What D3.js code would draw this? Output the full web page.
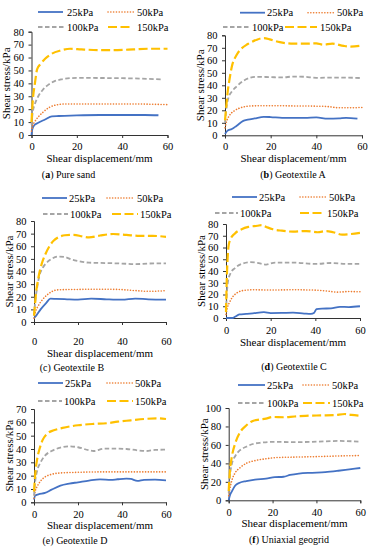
<!DOCTYPE html>
<html>
<head>
<meta charset="utf-8">
<script src="https://cdn.jsdelivr.net/npm/d3@7"></script>
<style>
  body { margin: 0; background: #fff; }
  svg { display: block; }
  text { font-family: "Liberation Serif", "Times New Roman", "DejaVu Serif", serif; fill: #000; }
  .axis path, .axis line { stroke: #333; }
</style>
</head>
<body>
<div id="chart"></div>
<script>
// series: [shear displacement mm, shear stress kPa]
var pressures = ["25kPa", "50kPa", "100kPa", "150kPa"];
var captions = [["a", " Pure sand"], ["b", " Geotextile A"], ["c", " Geotextile B"],
                ["d", " Geotextile C"], ["e", " Geotextile D"], ["f", " Uniaxial geogrid"]];
var boldLetter = [true, true, false, true, false, true];
var yMaxes = [80, 80, 80, 80, 70, 100];
var yStepsList = [10, 10, 10, 10, 10, 20];
var xTicks = [0, 20, 40, 60];

var sand25 = [[0,0],[0.3,4],[1.2,7.5],[3,9.5],[6,12],[9,14.5],[12,14.7],[20,15.2],[30,15.5],[40,15.5],[50,15.5],[56,15.3]];
var sand50 = [[0,3],[0.5,7],[1.5,10.5],[3,14],[5,17.5],[8,21.5],[11,23.3],[15,24],[30,24],[45,24],[60,23.5]];
var sand100 = [[0,8],[0.5,17],[1.5,24],[3,30],[5,35],[7.5,39],[10,41.5],[13,43],[17,44],[20,44.2],[40,44],[58,43]];
var sand150 = [[0,10],[0.5,25],[1.5,40],[2.5,51],[4,55],[6,59],[9,63],[13,65.5],[17,66.8],[22,66.3],[30,65.8],[38,65.8],[45,66.3],[52,66.8],[60,66.8]];

var geoA25 = [[0,1],[1,3.5],[3,5],[5,7.5],[8,11.5],[10,12.5],[13,13.5],[17,14.8],[20,14.6],[25,14],[30,13.9],[35,13.9],[40,14.3],[45,13.3],[50,13.6],[53,14],[58,13.3]];
var geoA50 = [[0,6],[0.5,10],[2,16],[4,19.5],[6,21.5],[9,23],[12,23.5],[20,23.7],[30,23.5],[40,23.3],[45,23],[50,22],[55,22],[60,22.3]];
var geoA100 = [[0,10],[0.5,20],[1.5,30],[3,35],[5,39],[8,43.5],[11,46],[14,46.8],[20,46.5],[25,46.3],[30,47],[35,46.8],[40,46],[50,46.2],[60,45.8]];
var geoA150 = [[0,12],[0.5,22],[1,32],[2,45],[3,55],[5,64],[7,69],[10,73],[14,76.5],[17,77.8],[20,76.5],[24,74.5],[30,73.3],[35,73.3],[40,73.5],[43,72.5],[47,73.3],[52,71.5],[55,71],[60,71.8]];

var geoB25 = [[0,3],[1,5],[3,10],[5.5,15],[7.5,18.5],[10,18.3],[15,18],[20,17.8],[26,18.5],[33,18],[40,17.7],[46,18.5],[52,18],[60,17.8]];
var geoB50 = [[0,3],[0.5,7],[2,13],[4,18],[6,21.5],[8,24],[11,25.5],[20,25.8],[30,26],[38,25.8],[45,25],[52,24.3],[60,24.8]];
var geoB100 = [[0,5],[0.5,15],[1.5,28],[2.5,37],[4,43],[6,47.5],[8,50],[11,51.8],[14,51.5],[17,49.5],[20,48.3],[25,47],[30,46.8],[40,46.3],[46,45.8],[52,46.3],[60,46.5]];
var geoB150 = [[0,5],[0.5,15],[1,24],[2,35],[3.5,46],[5,53],[7,60],[9,64.5],[11,67],[14,68.7],[18,69],[22,67.8],[25,67],[30,68.5],[36,69.7],[42,69],[48,68.2],[54,68.2],[60,67.5]];

var geoC25 = [[0,0],[3,0],[4,1],[6,3],[9,3.5],[12,4],[17,5],[20,4.2],[25,4.3],[30,4.5],[35,3.8],[38,3.5],[39.5,4.5],[40.5,7.5],[43,8],[47,8.2],[51,9.5],[55,9.3],[60,10]];
var geoC50 = [[0,3],[0.5,8],[1.5,13],[3,18],[5,21.5],[8,23.5],[12,24],[20,23.8],[30,24],[40,23.7],[45,23],[50,22],[55,22.5],[60,22.3]];
var geoC100 = [[0,5],[0.3,18],[0.8,30],[2,38],[4,42.5],[7,46],[11,47.5],[14,47],[18,45.5],[22,47.2],[30,47.2],[40,46],[47,46.8],[55,46],[60,46]];
var geoC150 = [[0,5],[0.3,30],[0.7,50],[1.2,62],[2,67],[4,72],[7,75.5],[10,77.5],[14,78.5],[16,79],[18,77.5],[21,75.5],[25,74.3],[30,73.5],[36,74],[41,73],[45,74],[48,73],[52,71],[56,71.5],[60,72.5]];

var geoD25 = [[0,2],[0.5,5],[2,6],[5,7],[8,9.5],[12,12.5],[16,14],[20,15],[25,16.3],[30,17.2],[35,16.8],[38,17.3],[42,17.8],[44,17.5],[47,16],[50,16.8],[55,17],[60,16.5]];
var geoD50 = [[0,3],[0.5,8],[1.5,12],[3,16],[5,19],[8,21],[12,22],[20,22.5],[30,22.8],[60,22.8]];
var geoD100 = [[0,5],[0.5,15],[1.5,24],[3,30],[5,35],[8,38.5],[12,41],[16,42],[20,41.3],[25,39],[27,38.5],[32,40.3],[37,40.3],[42,40],[47,39],[51,38.5],[55,39.3],[60,39.5]];
var geoD150 = [[0,8],[0.5,20],[1.5,33],[2.5,40],[4,47],[6,51.5],[9,54],[13,55.8],[20,57.8],[27,58.8],[33,59.3],[38,60.5],[44,61.5],[50,62.5],[56,63],[60,62.5]];

var grid25 = [[0,0],[0.5,5],[1.5,10],[3,16],[5,19],[8,20.8],[12,22.5],[17,23.5],[21,25],[25,25.5],[28,27.5],[32,29],[38,29.8],[44,30.5],[50,32],[55,33.5],[60,35]];
var grid50 = [[0,5],[0.5,12],[1.5,22],[3,30],[5,35],[8,40],[12,43],[17,45],[22,46.3],[30,46.8],[40,47.3],[50,48],[60,48.5]];
var grid100 = [[0,8],[0.5,25],[1.5,40],[3,48],[5,54],[8,58],[11,61],[15,62.5],[20,63.3],[30,63],[40,63.5],[50,64.3],[60,63.5]];
var grid150 = [[0,10],[0.5,30],[1.5,48],[3,62],[5,73],[8,81],[11,86],[14,87.5],[17,88.5],[20,90.3],[25,90],[30,90.8],[35,91.5],[42,92],[48,92.3],[53,93.5],[56,92.5],[60,91.5]];

var panelSeries = [
  [sand25, sand50, sand100, sand150],
  [geoA25, geoA50, geoA100, geoA150],
  [geoB25, geoB50, geoB100, geoB150],
  [geoC25, geoC50, geoC100, geoC150],
  [geoD25, geoD50, geoD100, geoD150],
  [grid25, grid50, grid100, grid150]
];

// styles for the four normal stress levels
var colors = ["#4472C4", "#ED7D31", "#A5A5A5", "#FFC000"];
var dashes = [null, "0.1,2.7", "4.5,2.5", "9,3.5"];
var widths = [1.8, 1.6, 1.8, 2.2];
var caps = ["butt", "round", "butt", "butt"];
var serif = '"Liberation Serif", "Times New Roman", serif';

// layout of each panel (pixel positions)
var layout = [
  {l:31.5, r:167.5, t:31.7, b:135, leg:[[12,38,63,67],[12,108,135,137],[27,38,65,67],[27,108,133,137]], xl:146, xt:158, cx:68.5, cy:174},
  {l:225, r:362, t:35.3, b:135.3, leg:[[12.7,240,265,267],[12.7,308,335,337],[27,223,250,252],[27,285,317,320]], xl:146, xt:158, cx:293, cy:174},
  {l:34, r:166, t:221, b:322, leg:[[198,42,67,69],[198,107,135,137],[214,43,68,70],[214,112,138,140]], xl:341.5, xt:353, cx:72, cy:367},
  {l:226, r:360, t:224, b:318, leg:[[197,232,257,259],[197,300,327,329],[213,215,238,240],[213,300,325,327]], xl:330, xt:342, cx:294, cy:366},
  {l:34, r:166, t:409, b:502.3, leg:[[383,38,63,65],[383,107,133,135],[401,38,62,64],[401,107,133,135]], xl:514, xt:525.5, cx:75, cy:540},
  {l:228.7, r:360.3, t:408, b:500.3, leg:[[385,238,265,267],[385,303,330,332],[403,238,265,267],[403,303,330,332]], xl:512, xt:523.5, cx:289, cy:539}
];

var svg = d3.select("#chart").append("svg")
  .attr("width", 371)
  .attr("height", 550)
  .attr("font-family", serif);

layout.forEach(function(p, i) {
  var g = svg.append("g");

  var x = d3.scaleLinear().domain([0, 60]).range([p.l, p.r]);
  var y = d3.scaleLinear().domain([0, yMaxes[i]]).range([p.b, p.t]);

  var yTickVals = d3.range(0, yMaxes[i] + 0.1, yStepsList[i]);

  // y axis
  g.append("g")
    .attr("class", "axis")
    .attr("transform", "translate(" + p.l + ",0)")
    .call(d3.axisLeft(y).tickValues(yTickVals).tickSize(3).tickPadding(4.5))
    .call(function(a) {
      a.attr("font-family", serif);
      a.selectAll("text").style("font-size", "10.5px");
    });

  // x axis
  var pad = (p.xl - p.b) - 3 - 3.7;
  g.append("g")
    .attr("class", "axis")
    .attr("transform", "translate(0," + p.b + ")")
    .call(d3.axisBottom(x).tickValues(xTicks).tickSize(3).tickPadding(pad))
    .call(function(a) {
      a.attr("font-family", serif);
      a.selectAll("text").style("font-size", "10.5px");
    });

  // curves
  var line = d3.line()
    .x(function(d) { return x(d[0]); })
    .y(function(d) { return y(d[1]); })
    .curve(d3.curveMonotoneX);

  panelSeries[i].forEach(function(s, k) {
    g.append("path")
      .datum(s)
      .attr("d", line)
      .attr("fill", "none")
      .attr("stroke", colors[k])
      .attr("stroke-width", widths[k])
      .attr("stroke-dasharray", dashes[k])
      .attr("stroke-linecap", caps[k]);
  });

  // legend
  p.leg.forEach(function(e, k) {
    g.append("line")
      .attr("x1", e[1]).attr("x2", e[2])
      .attr("y1", e[0]).attr("y2", e[0])
      .attr("stroke", colors[k])
      .attr("stroke-width", widths[k])
      .attr("stroke-dasharray", dashes[k])
      .attr("stroke-linecap", caps[k]);
    g.append("text")
      .attr("x", e[3])
      .attr("y", e[0])
      .attr("dy", "0.35em")
      .style("font-size", "10.5px")
      .text(pressures[k]);
  });

  // axis titles
  g.append("text")
    .attr("x", (p.l + p.r) / 2)
    .attr("y", p.xt)
    .attr("dy", "0.35em")
    .attr("text-anchor", "middle")
    .style("font-size", "11px")
    .text("Shear displacement/mm");

  g.append("text")
    .attr("transform", "translate(" + (p.l - 25) + "," + ((p.t + p.b) / 2) + ") rotate(-90)")
    .attr("dy", "0.35em")
    .attr("text-anchor", "middle")
    .style("font-size", "11px")
    .text("Shear stress/kPa");

  // caption
  var cap = g.append("text")
    .attr("x", p.cx)
    .attr("y", p.cy)
    .attr("dy", "0.35em")
    .attr("text-anchor", "middle")
    .style("font-size", "10px");
  cap.append("tspan").text("(");
  cap.append("tspan").style("font-weight", boldLetter[i] ? "bold" : "normal").text(captions[i][0]);
  cap.append("tspan").text(")" + captions[i][1]);
});
</script>
</body>
</html>
